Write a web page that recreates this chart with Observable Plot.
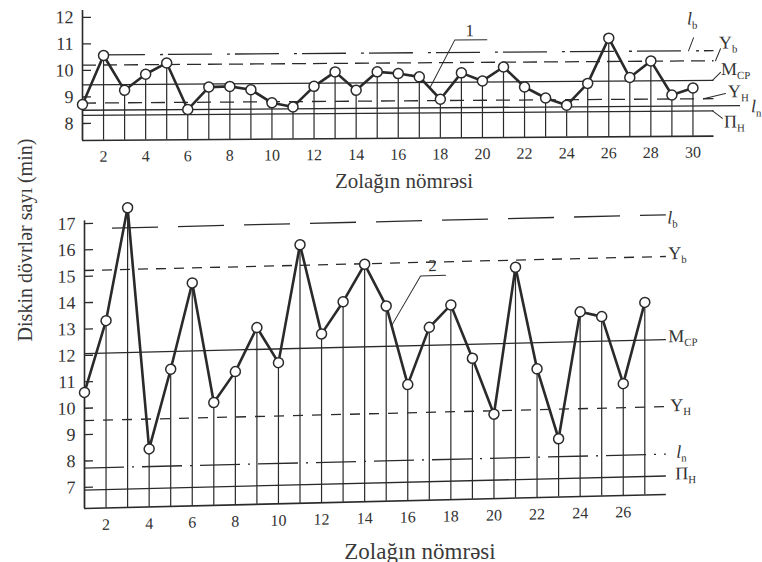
<!DOCTYPE html>
<html><head><meta charset="utf-8">
<script src="https://cdn.jsdelivr.net/npm/d3@7"></script>
<script src="https://cdn.jsdelivr.net/npm/@observablehq/plot@0.6"></script>
<style>
body{margin:0;background:#fff;}
#wrap{position:relative;width:762px;height:562px;overflow:hidden;font-family:"Liberation Serif","Times New Roman",serif;color:#333;background:#fff;}
#wrap svg{position:absolute;left:0;}
.ttl{position:absolute;white-space:nowrap;line-height:1;transform:translate(-50%,-50%);color:#3a3a3a;}
</style></head><body>
<div id="wrap"></div>
<script>
// ---------- data ----------
const topStrips = [1,2,3,4,5,6,7,8,9,10,11,12,13,14,15,16,17,18,19,20,21,22,23,24,25,26,27,28,29,30];
const topCycles = [8.72,10.56,9.24,9.84,10.26,8.5,9.34,9.36,9.23,8.73,8.57,9.34,9.88,9.18,9.87,9.8,9.67,8.82,9.81,9.5,10.02,9.26,8.84,8.56,9.38,11.08,9.59,10.21,8.92,9.18];
const botStrips = [1,2,3,4,5,6,7,8,9,10,11,12,13,14,15,16,17,18,19,20,21,22,23,24,25,26,27];
const botCycles = [10.6,13.3,17.56,8.4,11.4,14.65,10.1,11.25,12.9,11.55,16.0,12.6,13.8,15.2,13.6,10.6,12.75,13.58,11.54,9.4,14.95,11.08,8.41,13.2,13.0,10.44,13.5];
const limitNames = ["l_b","Y_b","M_CP","Y_H","l_n","Π_H"];
const topLimits = [10.58,10.2,9.46,8.77,8.5,8.31];
const botLimits = [16.8,15.22,12.07,9.53,7.73,6.9];
const topXTicks = [2,4,6,8,10,12,14,16,18,20,22,24,26,28,30];
const topYTicks = [8,9,10,11,12];
const botXTicks = [2,4,6,8,10,12,14,16,18,20,22,24,26];
const botYTicks = [7,8,9,10,11,12,13,14,15,16,17];
const topCurveLabel = "1";
const botCurveLabel = "2";
const xTitle = "Zolağın nömrəsi";
const yTitle = "Diskin dövrlər sayı (min)";

// ---------- tables ----------
const topData = topStrips.map((s, i) => ({strip: s, value: topCycles[i]}));
const botData = botStrips.map((s, i) => ({strip: s, value: botCycles[i]}));
const topLim = limitNames.map((n, i) => ({name: n, value: topLimits[i]}));
const botLim = limitNames.map((n, i) => ({name: n, value: botLimits[i]}));

const INK = "#2a2a2a";
const FONT = '"Liberation Serif","Times New Roman",serif';
const fmt = d => String(d);

function interp(data, at) {
  const i = data.findIndex(d => d.strip > at) - 1;
  const a = data[i], b = data[i + 1];
  return a.value + (b.value - a.value) * (at - a.strip) / (b.strip - a.strip);
}

function chart(cfg) {
  const {data, lim, xTicks, yTicks, xDom, yDom, width, height, mL, mR, mT, mB,
         styles, labelPos, leaders, ann, xPad, yTick} = cfg;
  const pxX = (width - mL - mR) / (xDom[1] - xDom[0]);
  const pxY = (height - mT - mB) / (yDom[1] - yDom[0]);
  const xEnd = xDom[1];
  const base = yDom[0];
  const marks = [
    Plot.axisX({ticks: xTicks, tickFormat: fmt, tickSize: 0, tickPadding: xPad, fontSize: 16, label: null, fill: "#333"}),
    Plot.axisY({ticks: yTicks, tickFormat: fmt, tickSize: 0, tickPadding: 9, fontSize: 18, label: null, fill: "#333"}),
    Plot.axisY({ticks: yTicks, tickSize: yTick, dx: yTick, tickFormat: () => "", label: null, stroke: INK, strokeWidth: 1.3}),
    Plot.ruleY([base], {stroke: INK, strokeWidth: 1.6}),
    Plot.ruleX([xDom[0]], {stroke: INK, strokeWidth: 1.6}),
    ...lim.map(d => {
      const st = styles[d.name] || {};
      return Plot.ruleY([d], {y: "value", x1: st.x1 ?? xDom[0], x2: st.x2 ?? xEnd,
        stroke: INK, strokeWidth: 1.3, strokeDasharray: st.dash ?? null});
    }),
    Plot.ruleX(data, {x: "strip", y1: base, y2: "value", stroke: INK, strokeWidth: 1.2}),
    Plot.line(data, {x: "strip", y: "value", stroke: INK, strokeWidth: 2.6}),
    Plot.dot(data, {x: "strip", y: "value", r: 5, fill: "white", stroke: INK, strokeWidth: 1.5}),
    ...lim.map(d => {
      const p = labelPos[d.name];
      return Plot.text([d], {x: () => xEnd, y: "value", text: "name", textAnchor: "start",
        dx: p[0], dy: p[1], fontSize: 18, fill: "#333", fontFamily: FONT});
    }),
    ...lim.filter(d => leaders[d.name]).map(d => {
      const L = leaders[d.name];
      const pts = [{x: xEnd + L[0] / pxX, y: d.value}, {x: xEnd + L[1] / pxX, y: d.value + L[2] / pxY}];
      return Plot.line(pts, {x: "x", y: "y", stroke: INK, strokeWidth: 1});
    })
  ];
  // curve annotation
  const ay = interp(data, ann.at);
  const elbow = {x: ann.at + ann.off[0] / pxX, y: ay + ann.off[1] / pxY};
  const pts = [{x: ann.at, y: ay}, elbow, {x: elbow.x + ann.len / pxX, y: elbow.y}];
  marks.push(Plot.line(pts, {x: "x", y: "y", stroke: INK, strokeWidth: 1}));
  marks.push(Plot.text([ann.label], {x: () => elbow.x, y: () => elbow.y, text: d => d,
    dx: ann.tdx, dy: ann.tdy, fontSize: 17, fill: "#333", fontFamily: FONT}));
  return Plot.plot({
    width, height, marginLeft: mL, marginRight: mR, marginTop: mT, marginBottom: mB,
    x: {domain: xDom}, y: {domain: yDom},
    style: {fontFamily: FONT, color: "#333", background: "transparent", overflow: "visible"},
    marks
  });
}

function subscripts(svg) {
  svg.setAttribute("font-family", FONT);
  d3.select(svg).selectAll("text").each(function () {
    if (this.querySelector("tspan")) return;
    const m = /^(.+?)_(.+)$/.exec(this.textContent);
    if (!m) return;
    this.textContent = "";
    const t = d3.select(this);
    const a = t.append("tspan").text(m[1]);
    if (m[1] === "l") a.attr("font-style", "italic");
    t.append("tspan").attr("dy", "0.38em").attr("font-size", "0.6em").text(m[2]);
  });
}

const topSvg = chart({
  data: topData, lim: topLim, xTicks: topXTicks, yTicks: topYTicks,
  xDom: [1, 31], yDom: [7.36, 12.26], width: 762, height: 200,
  mL: 82, mR: 48.5, mT: 10, mB: 60, xPad: 10, yTick: 9,
  styles: {l_b: {dash: "44,15,3,5", x1: 1.9}, Y_b: {dash: "14,7"}, Y_H: {dash: "14,9"}, l_n: {x2: 32.26}},
  labelPos: {l_b: [-27, -32], Y_b: [5, -18], M_CP: [7, -11], Y_H: [14, -7], l_n: [37, 1], "Π_H": [10, 11]},
  leaders: {l_b: [-25.5, -20.5, 13], Y_b: [1.5, 6.5, 12], M_CP: [-1.5, 6.5, 8], Y_H: [-10.5, 11.5, 5], "Π_H": [-1.5, 8.5, -7.5]},
  ann: {at: 17.5, off: [25, 48], len: 32, label: topCurveLabel, tdx: 15, tdy: -9}
});
const botSvg = chart({
  data: botData, lim: botLim, xTicks: botXTicks, yTicks: botYTicks,
  xDom: [1, 28], yDom: [6.2, 17.1], width: 762, height: 362,
  mL: 84, mR: 96.15, mT: 20.4, mB: 54, xPad: 10.5, yTick: 9,
  styles: {l_b: {dash: "46,20", x1: 2.3}, Y_b: {dash: "10,8"}, Y_H: {dash: "10,9"}, l_n: {dash: "40,8,2,8"}},
  labelPos: {l_b: [1, 3], Y_b: [2, -3], M_CP: [2, -3], Y_H: [4, -1], l_n: [10, -2], "Π_H": [9, -2]},
  leaders: {},
  ann: {at: 15.25, off: [29, 49], len: 25, label: botCurveLabel, tdx: 12, tdy: -10}
});
subscripts(topSvg); subscripts(botSvg);

const wrap = document.getElementById("wrap");
topSvg.style.top = "0px";
topSvg.style.transform = "skewY(-0.4deg)";
topSvg.style.transformOrigin = "82px 0px";
botSvg.style.top = "200px";
botSvg.style.transform = "skewY(-1.38deg)";
botSvg.style.transformOrigin = "84px 0px";
wrap.appendChild(topSvg);
wrap.appendChild(botSvg);

function title(text, x, y, size, rot) {
  const d = document.createElement("div");
  d.className = "ttl";
  d.textContent = text;
  d.style.left = x + "px"; d.style.top = y + "px"; d.style.fontSize = size + "px";
  if (rot) d.style.transform = "translate(-50%,-50%) rotate(-90deg)";
  wrap.appendChild(d);
}
title(xTitle, 404, 181, 21);
title(xTitle, 420, 551, 23);
title(yTitle, 25, 240, 20, true);
</script>
</body></html>
